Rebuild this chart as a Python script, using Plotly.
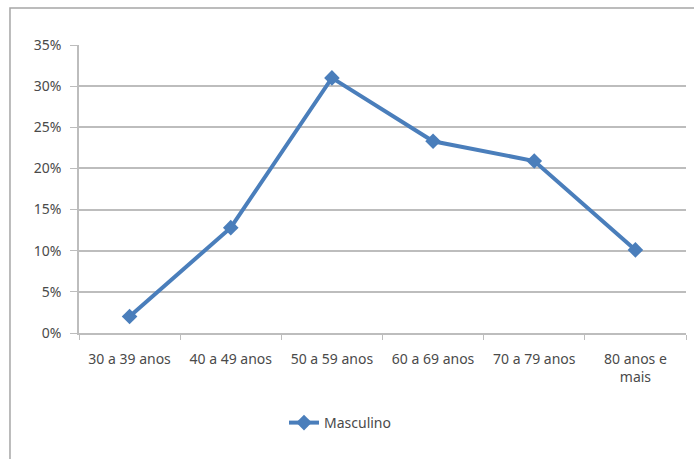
import plotly.graph_objects as go

# Age groups and share of male cases (%)
categorias = ["30 a 39 anos", "40 a 49 anos", "50 a 59 anos",
              "60 a 69 anos", "70 a 79 anos", "80 anos e<br>mais"]
masculino = [2.0, 12.8, 31.0, 23.3, 20.9, 10.1]
y_ticks = [0, 5, 10, 15, 20, 25, 30, 35]

AZUL = "#4A7EBB"
CINZA_TEXTO = "#4A4A4A"
CINZA_GRADE = "#BDBDBD"
FONTE = "Noto Sans, Liberation Sans, sans-serif"

fig = go.Figure()
fig.add_trace(go.Scatter(
    x=categorias, y=masculino, name="Masculino",
    mode="lines+markers",
    line=dict(color=AZUL, width=4),
    marker=dict(symbol="diamond", size=12, color=AZUL),
))

fig.update_layout(
    width=694, height=459,
    margin=dict(l=79, r=8, t=45, b=126),
    paper_bgcolor="white", plot_bgcolor="white",
    font=dict(family=FONTE, size=13, color=CINZA_TEXTO),
    showlegend=True,
    legend=dict(orientation="h", x=0.43, y=-0.3125,
                xanchor="center", yanchor="middle",
                font=dict(size=14, color=CINZA_TEXTO)),
    xaxis=dict(
        type="category", range=[-0.5, 5.5], showgrid=False,
        showline=True, linecolor=CINZA_GRADE, linewidth=1.5,
        ticks="outside", tickson="boundaries", ticklen=5,
        tickcolor=CINZA_GRADE, tickfont=dict(size=14),
        ticklabelstandoff=12,
    ),
    yaxis=dict(
        range=[0, 35], tickvals=y_ticks,
        ticktext=[f"{v}%" for v in y_ticks],
        showgrid=True, gridcolor=CINZA_GRADE, gridwidth=1.5,
        showline=True, linecolor=CINZA_GRADE, linewidth=1.5,
        ticks="outside", ticklen=7, tickcolor=CINZA_GRADE,
        zeroline=False, tickfont=dict(size=14),
        ticklabelstandoff=6,
    ),
)

# Outer chart frame
fig.add_shape(type="rect", xref="paper", yref="paper",
              x0=-0.1137, x1=1.05, y0=-0.5, y1=1.1285,
              line=dict(color="#A6A6A6", width=1.5), layer="below")

fig.write_html("out.html")
